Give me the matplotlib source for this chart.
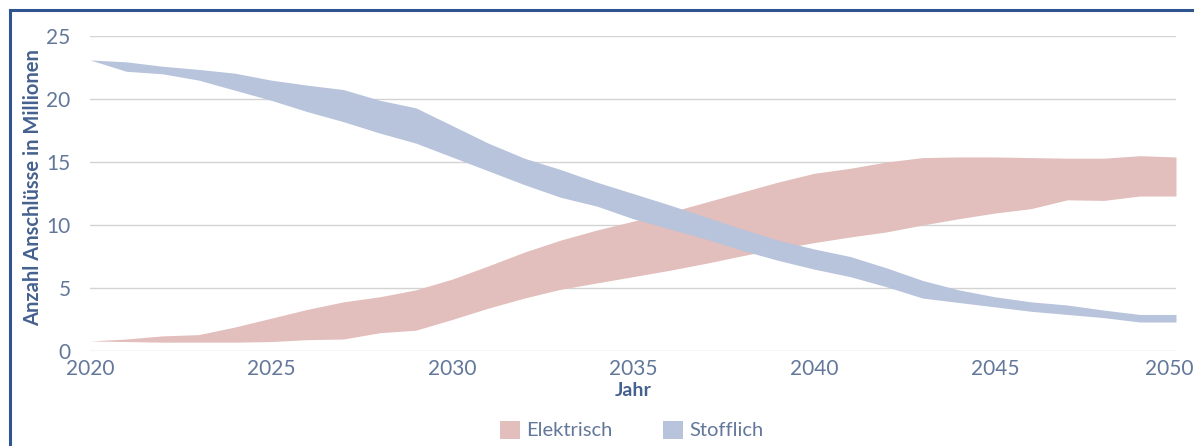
import matplotlib
matplotlib.use("Agg")
import matplotlib.pyplot as plt
import matplotlib.transforms as mtransforms
from matplotlib.patches import Patch
from matplotlib.lines import Line2D

years = list(range(2020, 2051))

elektrisch_low = [0.8, 0.75, 0.7, 0.7, 0.7, 0.75, 0.9, 0.95, 1.45, 1.65, 2.5,
                  3.4, 4.2, 4.9, 5.4, 5.9, 6.4, 6.95, 7.55, 8.1, 8.6,
                  9.05, 9.45, 10.0, 10.5, 10.95, 11.3, 12.0, 11.95, 12.3, 12.3]
elektrisch_high = [0.8, 0.95, 1.2, 1.3, 1.9, 2.6, 3.3, 3.9, 4.3, 4.85, 5.7,
                   6.75, 7.85, 8.8, 9.6, 10.3, 11.0, 11.8, 12.6, 13.4, 14.1,
                   14.5, 15.0, 15.35, 15.4, 15.4, 15.35, 15.3, 15.3, 15.5, 15.4]
stofflich_low = [23.1, 22.2, 22.0, 21.5, 20.7, 19.9, 19.0, 18.2, 17.3, 16.5, 15.4,
                 14.3, 13.2, 12.2, 11.5, 10.5, 9.7, 8.9, 8.0, 7.2, 6.5,
                 5.9, 5.1, 4.2, 3.85, 3.5, 3.15, 2.9, 2.65, 2.3, 2.3]
stofflich_high = [23.1, 22.95, 22.6, 22.35, 22.05, 21.5, 21.1, 20.75, 19.9, 19.3, 17.9,
                  16.5, 15.3, 14.4, 13.4, 12.5, 11.6, 10.65, 9.7, 8.8, 8.1,
                  7.5, 6.6, 5.6, 4.85, 4.3, 3.9, 3.65, 3.25, 2.9, 2.9]

x_ticks = [2020, 2025, 2030, 2035, 2040, 2045, 2050]
y_ticks = [0, 5, 10, 15, 20, 25]
series_labels = ["Elektrisch", "Stofflich"]
x_title = "Jahr"
y_title = "Anzahl Anschlüsse in Millionen"

RED = "#E2BEBC"
BLUE = "#B8C3DC"
TICK_C = "#62779A"
TITLE_C = "#45618E"
FRAME_C = "#2F5590"

plt.rcParams["font.family"] = ["Lato", "DejaVu Sans"]

W, H = 1194, 446
fig = plt.figure(figsize=(W / 100, H / 100), dpi=100)
ax = fig.add_axes([90 / W, (H - 351) / H, 1086 / W, 315 / H])

ax.fill_between(years, elektrisch_low, elektrisch_high, color=RED, lw=0, zorder=2)
ax.fill_between(years, stofflich_low, stofflich_high, color=BLUE, lw=0, zorder=3)

ax.set_xlim(2020, 2050)
ax.set_ylim(0, 25)
ax.set_xticks(x_ticks)
ax.set_yticks(y_ticks)
ax.tick_params(axis="both", length=0, labelsize=15, colors=TICK_C)
ax.tick_params(axis="x", pad=6)
ax.tick_params(axis="y", pad=14)
ax.grid(axis="y", color="#D3D3D3", lw=1.0, zorder=1)
ax.set_axisbelow(True)
for s in ax.spines.values():
    s.set_visible(False)

# shift the last x tick label slightly left so it stays inside the picture
last_lbl = ax.get_xticklabels()[-1]
last_lbl.set_transform(last_lbl.get_transform() +
                       mtransforms.ScaledTranslation(-7 / 100, 0, fig.dpi_scale_trans))

ax.set_xlabel(x_title, fontsize=14, fontweight="bold", color=TITLE_C, labelpad=2)
ax.set_ylabel(y_title, fontsize=14.5, fontweight="bold", color=TITLE_C)
ax.yaxis.set_label_coords(-47 / 1086, 0.52)

handles = [Patch(facecolor=RED, edgecolor="none"), Patch(facecolor=BLUE, edgecolor="none")]
fig.legend(handles, series_labels, loc="center", bbox_to_anchor=(632 / W, (H - 430) / H),
           ncol=2, frameon=False, fontsize=14.5, labelcolor=TICK_C,
           handlelength=1.0, handleheight=1.0, handletextpad=0.3, columnspacing=2.5)

# outer frame (left and top visible)
fig.add_artist(Line2D([9.5 / W, 9.5 / W], [0, (H - 10) / H], color=FRAME_C, lw=2.2, transform=fig.transFigure))
fig.add_artist(Line2D([9.5 / W, 1.0], [(H - 10) / H, (H - 10) / H], color=FRAME_C, lw=2.2, transform=fig.transFigure))

fig.savefig("out.png", dpi=100)
